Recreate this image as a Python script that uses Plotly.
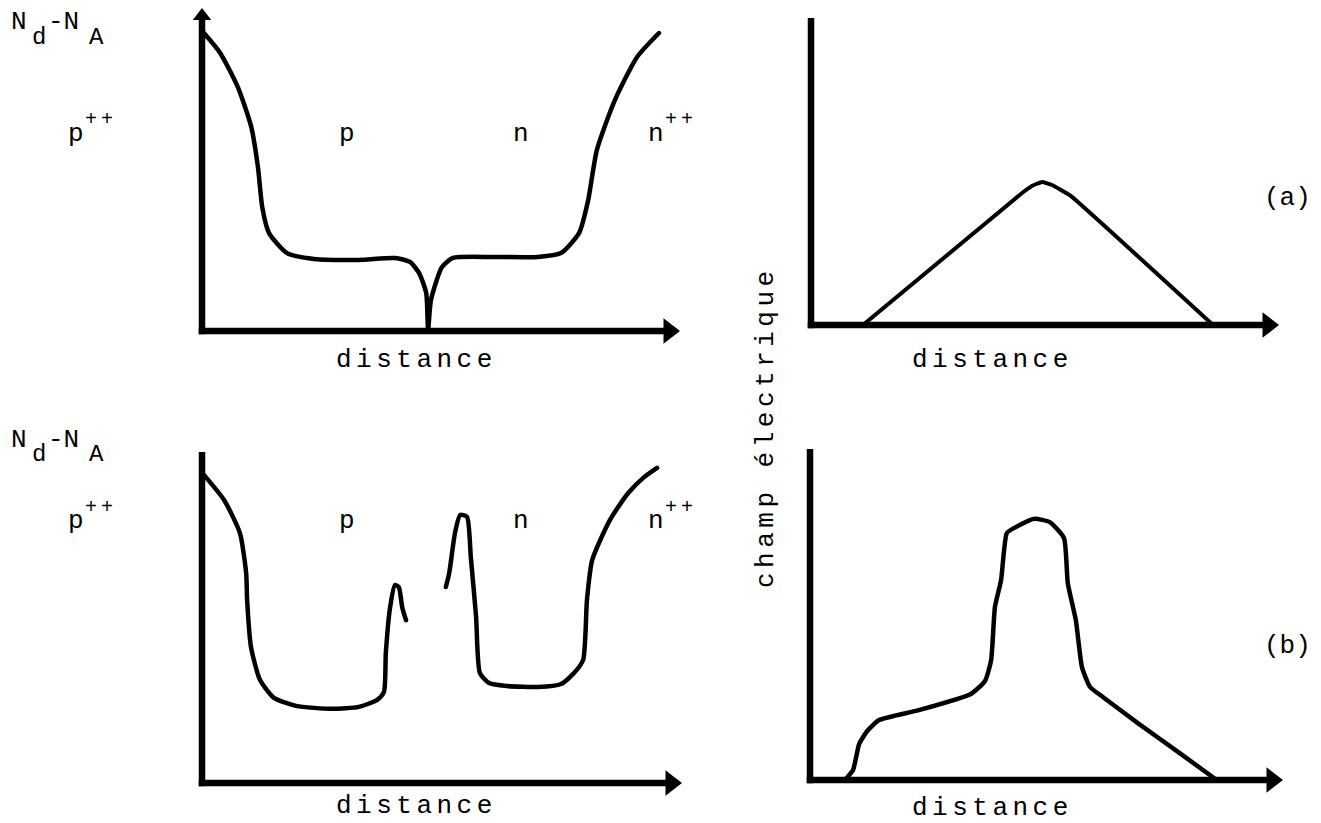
import plotly.graph_objects as go

# ---- data (arbitrary units: distance 0-100, level 0-100) ----
# (a) doping profile N_d - N_A
dopA_x = [0.4, 3.8, 7.5, 10.3, 11.7, 12.6, 14.0, 17.8, 23.4, 32.8, 40.4, 43.5, 45.4, 46.9, 47.3,
          47.9, 50.2, 52.5, 60.9, 70.3, 75.1, 78.9, 80.8, 82.6, 86.4, 91.0, 95.6]
dopA_y = [91.4, 85.3, 74.8, 62.6, 50.3, 38.0, 30.1, 23.9, 22.1, 21.8, 22.4, 21.2, 17.8, 11.7, 0.3,
          9.5, 19.6, 22.4, 22.7, 22.7, 23.9, 30.1, 40.2, 55.5, 70.9, 84.0, 91.4]

# (b) doping profile with spikes (two separate pieces)
dopB1_x = [0.4, 4.6, 7.9, 9.2, 9.4, 10.2, 12.1, 15.0, 19.6, 27.1, 32.7, 36.5, 37.9, 38.3, 39.2,
           40.2, 41.0, 41.7, 42.5]
dopB1_y = [93.1, 85.5, 75.5, 63.4, 55.3, 41.1, 31.1, 25.7, 23.3, 22.4, 23.0, 25.1, 27.5, 39.3, 53.2,
           59.8, 59.2, 53.2, 49.2]
dopB2_x = [50.8, 51.5, 52.7, 53.8, 55.2, 56.0, 57.1, 57.9, 59.8, 63.5, 70.0, 74.8, 77.5, 79.4, 80.2,
           81.3, 85.0, 88.8, 92.1, 94.8]
dopB2_y = [59.2, 63.4, 75.5, 81.0, 80.4, 68.3, 50.2, 33.2, 30.2, 29.3, 29.0, 29.9, 33.2, 37.2, 55.3,
           67.4, 79.5, 87.6, 92.4, 95.2]

# (a) electric field
fieldA_x = [11.1, 45.1, 47.2, 49.4, 51.5, 55.3, 85.9]
fieldA_y = [0.0, 43.0, 45.3, 46.6, 45.6, 42.3, 0.0]

# (b) electric field
fieldB_x = [7.4, 9.1, 10.4, 12.1, 14.6, 23.0, 34.0, 37.0, 38.3, 39.1, 40.4, 41.6, 43.1, 47.4, 50.7,
            53.7, 54.5, 56.2, 57.5, 59.2, 61.9, 69.3, 77.8, 85.4]
fieldB_y = [0.0, 3.0, 10.9, 14.8, 18.1, 21.1, 26.0, 29.9, 36.3, 52.3, 60.4, 74.6, 76.1, 78.9, 77.9,
            73.1, 59.5, 48.3, 34.1, 28.1, 25.1, 17.2, 8.5, 0.6]

# typed labels (typewriter style: base letters, subscripts and superscripts typed separately)
ylabel_dop_parts = ["N", "d", "-N", "A"]      # N_d - N_A
region_base = ["p", "p", "n", "n"]            # p++, p, n, n++
region_sup = ["++", "++"]                     # exponents of p++ and n++
xlabel = "distance"
ylabel_field = "champ électrique"
case_labels = ["(a)", "(b)"]

W, H = 1321, 823
FONT = "Liberation Mono"

def px_x(p):
    return p / W

def px_y(p):
    return 1 - p / H

fig = go.Figure()

# panel geometry (pixels): origin x, origin y, x end, y top, y-axis has arrow
panels = {
    "1": (202, 331, 680, 5, True),     # top-left
    "2": (811, 325, 1279, 18, False),  # top-right
    "3": (202, 783, 682, 452, False),  # bottom-left
    "4": (810, 780, 1283, 449, False), # bottom-right
}

layout_axes = {}
shapes = []
AX_W = 6.5
HEAD = 22  # arrowhead size, px
for k, (ox, oy, xe, yt, yarrow) in panels.items():
    xa = "xaxis" if k == "1" else f"xaxis{k}"
    ya = "yaxis" if k == "1" else f"yaxis{k}"
    xr = "x" if k == "1" else f"x{k}"
    yr = "y" if k == "1" else f"y{k}"
    layout_axes[xa] = dict(domain=[px_x(ox), px_x(xe)], range=[0, 100], visible=False, anchor=yr)
    layout_axes[ya] = dict(domain=[px_y(oy), px_y(yt)], range=[0, 100], visible=False, anchor=xr)
    hx = 100 - (HEAD / 2) / (xe - ox) * 100
    hy = 100 - (HEAD / 2) / (oy - yt) * 100
    shapes.append(dict(type="line", xref="paper", yref="paper",
                       x0=px_x(ox - AX_W / 2), y0=px_y(oy), x1=px_x(xe - HEAD / 2), y1=px_y(oy),
                       line=dict(color="black", width=AX_W)))
    fig.add_trace(go.Scatter(x=[hx], y=[0], mode="markers", xaxis=xr, yaxis=yr, cliponaxis=False,
                             marker=dict(symbol="triangle-right", size=HEAD, color="black",
                                         line=dict(width=0)),
                             showlegend=False, hoverinfo="skip"))
    shapes.append(dict(type="line", xref="paper", yref="paper",
                       x0=px_x(ox), y0=px_y(oy + AX_W / 2), x1=px_x(ox),
                       y1=px_y(yt + HEAD / 2) if yarrow else px_y(yt),
                       line=dict(color="black", width=AX_W)))
    if yarrow:
        fig.add_trace(go.Scatter(x=[0], y=[hy], mode="markers", xaxis=xr, yaxis=yr, cliponaxis=False,
                                 marker=dict(symbol="triangle-up", size=HEAD - 6, color="black",
                                             line=dict(width=0)),
                                 showlegend=False, hoverinfo="skip"))

line_style = dict(color="black", width=4.5)

fig.add_trace(go.Scatter(x=dopA_x, y=dopA_y, mode="lines", line=dict(shape="spline", smoothing=0.6, **line_style),
                         xaxis="x", yaxis="y", cliponaxis=False, showlegend=False))
fig.add_trace(go.Scatter(x=fieldA_x, y=fieldA_y, mode="lines", line=dict(shape="spline", smoothing=0.3, color="black", width=4),
                         xaxis="x2", yaxis="y2", cliponaxis=False, showlegend=False))
fig.add_trace(go.Scatter(x=dopB1_x, y=dopB1_y, mode="lines", line=dict(shape="spline", smoothing=0.6, **line_style),
                         xaxis="x3", yaxis="y3", cliponaxis=False, showlegend=False))
fig.add_trace(go.Scatter(x=dopB2_x, y=dopB2_y, mode="lines", line=dict(shape="spline", smoothing=0.6, **line_style),
                         xaxis="x3", yaxis="y3", cliponaxis=False, showlegend=False))
fig.add_trace(go.Scatter(x=fieldB_x, y=fieldB_y, mode="lines", line=dict(shape="spline", smoothing=0.5, **line_style),
                         xaxis="x4", yaxis="y4", cliponaxis=False, showlegend=False))

annotations = []

def txt(text, x, y, size=26, xanchor="center", yanchor="middle", angle=0):
    annotations.append(dict(xref="paper", yref="paper", x=px_x(x), y=px_y(y), text=text,
                            showarrow=False, xanchor=xanchor, yanchor=yanchor, textangle=angle,
                            font=dict(family=FONT, size=size, color="black")))

# N_d - N_A labels (top and bottom)
for base_y in (22, 440):
    txt(ylabel_dop_parts[0], 9, base_y, xanchor="left")
    txt(ylabel_dop_parts[1], 30, base_y + 15, size=24, xanchor="left")
    txt(ylabel_dop_parts[2], 46, base_y, xanchor="left")
    txt(ylabel_dop_parts[3], 87, base_y + 15, size=24, xanchor="left")

# region labels
for yy in (134, 521):
    txt(region_base[0], 66, yy, xanchor="left")
    txt(region_sup[0], 87, yy - 14, size=20, xanchor="left")
    txt(region_base[1], 347, yy)
    txt(region_base[2], 521, yy)
    txt(region_base[3], 646, yy, xanchor="left")
    txt(region_sup[1], 667, yy - 14, size=20, xanchor="left")

# distance labels
for (cx, cy) in [(416, 360), (992, 360), (416, 806), (992, 808)]:
    txt(xlabel, cx, cy)

txt(ylabel_field, 766, 427, angle=-90)
txt(case_labels[0], 1287, 198)
txt(case_labels[1], 1287, 646)

fig.update_layout(width=W, height=H, margin=dict(l=0, r=0, t=0, b=0),
                  paper_bgcolor="white", plot_bgcolor="rgba(0,0,0,0)",
                  annotations=annotations, shapes=shapes, showlegend=False, **layout_axes)

post = """
document.body.style.margin = '0';
document.body.style.padding = '0';
var gd = document.getElementById('{plot_id}');
gd.querySelectorAll('path.js-line').forEach(function(p){ p.style.strokeLinecap = 'round'; p.style.strokeLinejoin = 'round'; });
gd.querySelectorAll('text.annotation-text').forEach(function(t){
  var s = t.textContent;
  if (s.indexOf('distance') >= 0 || s.indexOf('champ') >= 0) { t.style.letterSpacing = '4.5px'; }
  else if (s === '++') { t.style.letterSpacing = '4px'; }
});
"""
fig.write_html("out.html", post_script=post, config={"staticPlot": True})
